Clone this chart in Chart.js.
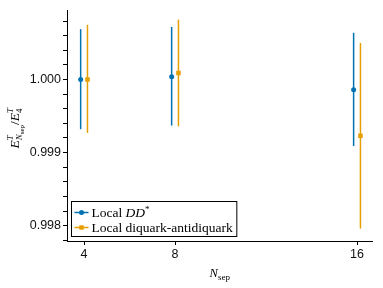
<!DOCTYPE html>
<html>
<head>
<meta charset="utf-8">
<script src="https://cdn.jsdelivr.net/npm/chart.js@4.4.0/dist/chart.umd.min.js"></script>
<style>
  html, body { margin: 0; padding: 0; background: #fff; }
  canvas { display: block; }
</style>
</head>
<body>
<canvas id="ratioChart" width="383" height="288"></canvas>
<script>
// N_sep values and ticks
const nSep = [4, 8, 16];
const xTicks = [4, 8, 16];
const yMajorTicks = [0.998, 0.999, 1.000];

// Local DD* : central value and error band
const ddCentral = [1.00000, 1.00004, 0.99986];
const ddLower   = [0.99932, 0.99937, 0.99909];
const ddUpper   = [1.00069, 1.00072, 1.00064];

// Local diquark-antidiquark
const dqCentral = [1.00000, 1.00009, 0.99923];
const dqLower   = [0.99927, 0.99936, 0.99796];
const dqUpper   = [1.00075, 1.00082, 1.00050];

const BLUE = '#0072b2';
const ORANGE = '#e69f00';
const DODGE = 0.15;

function toPoints(central, shift) {
  return nSep.map((n, i) => ({ x: n + shift, y: central[i] }));
}

// minor ticks every 0.0002 between the axis limits
const yTickValues = [];
for (let k = 0; k <= 15; k++) {
  yTickValues.push(Math.round((0.9978 + k * 0.0002) * 1e4) / 1e4);
}

/**
 * Draw a run of text pieces (for sub/superscripts) centred on x
 */
function drawRich(ctx, parts, x, y) {
  let width = 0;
  parts.forEach(p => {
    ctx.font = p.font;
    p.w = ctx.measureText(p.t).width;
    if (!p.stack) width += p.w;
  });
  let cx = x - width / 2;
  parts.forEach(p => {
    ctx.font = p.font;
    ctx.fillText(p.t, cx, y + (p.dy || 0));
    if (!p.stack) cx += p.w;
  });
}

const errorBarPlugin = {
  id: 'errorBars',
  beforeDatasetsDraw(chart) {
    const ctx = chart.ctx;
    const xs = chart.scales.x;
    const ys = chart.scales.y;
    ctx.save();
    chart.data.datasets.forEach(ds => {
      ctx.strokeStyle = ds.backgroundColor;
      ctx.lineWidth = 1.5;
      ds.data.forEach((pt, i) => {
        const px = xs.getPixelForValue(pt.x);
        ctx.beginPath();
        ctx.moveTo(px, ys.getPixelForValue(ds.errLower[i]));
        ctx.lineTo(px, ys.getPixelForValue(ds.errUpper[i]));
        ctx.stroke();
      });
    });
    ctx.restore();
  }
};

const decorPlugin = {
  id: 'decor',
  afterDraw(chart) {
    const ctx = chart.ctx;
    const area = chart.chartArea;
    ctx.save();
    ctx.fillStyle = '#000';
    ctx.textBaseline = 'alphabetic';

    // y axis label: E^T_{N_sep} / E^T_4
    const it = 'italic 13.5px "Liberation Serif"';
    const itS = 'italic 9px "Liberation Serif"';
    const itSS = '7px "Liberation Serif"';
    ctx.save();
    ctx.translate(19, (area.top + area.bottom) / 2 + 3);
    ctx.rotate(-Math.PI / 2);
    drawRich(ctx, [
      { t: 'E', font: it },
      { t: 'T', font: itS, dy: -6, stack: true },
      { t: 'N', font: itS, dy: 3 },
      { t: 'sep', font: itSS, dy: 5 },
      { t: '/', font: '13.5px "Liberation Serif"' },
      { t: 'E', font: it },
      { t: 'T', font: itS, dy: -6, stack: true },
      { t: '4', font: '9px "Liberation Serif"', dy: 3 }
    ], 0, 0);
    ctx.restore();

    // x axis label: N_sep
    drawRich(ctx, [
      { t: 'N', font: 'italic 12.5px "Liberation Serif"' },
      { t: 'sep', font: '9px "Liberation Serif"', dy: 3 }
    ], (area.left + area.right) / 2, 276.5);

    // legend box
    const lf = '13.5px "Liberation Serif"';
    const lfi = 'italic 13.5px "Liberation Serif"';
    const entries = [
      { color: BLUE, marker: 'circle', parts: [
        { t: 'Local ', font: lf }, { t: 'DD', font: lfi },
        { t: '*', font: '9px "Liberation Serif"', dy: -5 }
      ] },
      { color: ORANGE, marker: 'rect', parts: [{ t: 'Local diquark-antidiquark', font: lf }] }
    ];
    let maxW = 0;
    entries.forEach(e => {
      let w = 0;
      e.parts.forEach(p => { ctx.font = p.font; w += ctx.measureText(p.t).width; });
      e.w = w;
      maxW = Math.max(maxW, w);
    });
    const boxL = area.left + 4.5;
    const boxB = area.bottom - 4.5;
    const rowH = 15;
    const boxH = 35;
    const boxW = 20 + maxW + 4;
    const boxT = boxB - boxH;
    ctx.fillStyle = '#fff';
    ctx.fillRect(boxL, boxT, boxW, boxH);
    ctx.strokeStyle = '#000';
    ctx.lineWidth = 1;
    ctx.strokeRect(boxL, boxT, boxW, boxH);
    entries.forEach((e, i) => {
      const cy = boxT + 11 + i * rowH;
      ctx.strokeStyle = e.color;
      ctx.lineWidth = 1.5;
      ctx.beginPath();
      ctx.moveTo(boxL + 3, cy);
      ctx.lineTo(boxL + 17, cy);
      ctx.stroke();
      ctx.fillStyle = e.color;
      if (e.marker === 'rect') {
        ctx.fillRect(boxL + 10 - 2.2, cy - 2.2, 4.4, 4.4);
      } else {
        ctx.beginPath();
        ctx.arc(boxL + 10, cy, 2.5, 0, Math.PI * 2);
        ctx.fill();
      }
      ctx.fillStyle = '#000';
      let tx = boxL + 20;
      e.parts.forEach(p => {
        ctx.font = p.font;
        ctx.fillText(p.t, tx, cy + 4.5 + (p.dy || 0));
        tx += ctx.measureText(p.t).width;
      });
    });
    ctx.restore();
  }
};

Chart.defaults.font.family = '"Liberation Sans", Arial, sans-serif';

new Chart(document.getElementById('ratioChart').getContext('2d'), {
  type: 'scatter',
  data: {
    datasets: [
      {
        label: 'Local DD*',
        data: toPoints(ddCentral, -DODGE),
        errLower: ddLower,
        errUpper: ddUpper,
        backgroundColor: BLUE,
        borderColor: BLUE,
        pointStyle: 'circle',
        pointRadius: 2.5,
        borderWidth: 0
      },
      {
        label: 'Local diquark-antidiquark',
        data: toPoints(dqCentral, DODGE),
        errLower: dqLower,
        errUpper: dqUpper,
        backgroundColor: ORANGE,
        borderColor: ORANGE,
        pointStyle: 'rect',
        pointRadius: 3.2,
        borderWidth: 0
      }
    ]
  },
  options: {
    responsive: false,
    animation: false,
    layout: { padding: { left: 0, right: 10.5, top: 10, bottom: 0 } },
    plugins: {
      legend: { display: false },
      tooltip: { enabled: false }
    },
    scales: {
      x: {
        type: 'linear',
        min: 3.25,
        max: 16.68,
        afterBuildTicks: axis => { axis.ticks = xTicks.map(v => ({ value: v })); },
        afterFit: scale => { scale.height = 47; },
        grid: { drawOnChartArea: false, drawTicks: true, tickLength: 4, color: '#000' },
        border: { display: true, color: '#000', width: 1 },
        ticks: {
          padding: 2,
          color: '#111',
          font: { size: 12.5 },
          maxRotation: 0,
          callback: v => String(v)
        }
      },
      y: {
        type: 'linear',
        min: 0.99779,
        max: 1.000952,
        afterBuildTicks: axis => { axis.ticks = yTickValues.map(v => ({ value: v })); },
        afterFit: scale => { scale.width = 67; },
        grid: { drawOnChartArea: false, drawTicks: true, tickLength: 4, color: '#000' },
        border: { display: true, color: '#000', width: 1 },
        ticks: {
          padding: 2,
          color: '#111',
          font: { size: 12.5 },
          autoSkip: false,
          callback: v => yMajorTicks.some(m => Math.abs(m - v) < 1e-7) ? v.toFixed(3) : ''
        }
      }
    }
  },
  plugins: [errorBarPlugin, decorPlugin]
});
</script>
</body>
</html>
